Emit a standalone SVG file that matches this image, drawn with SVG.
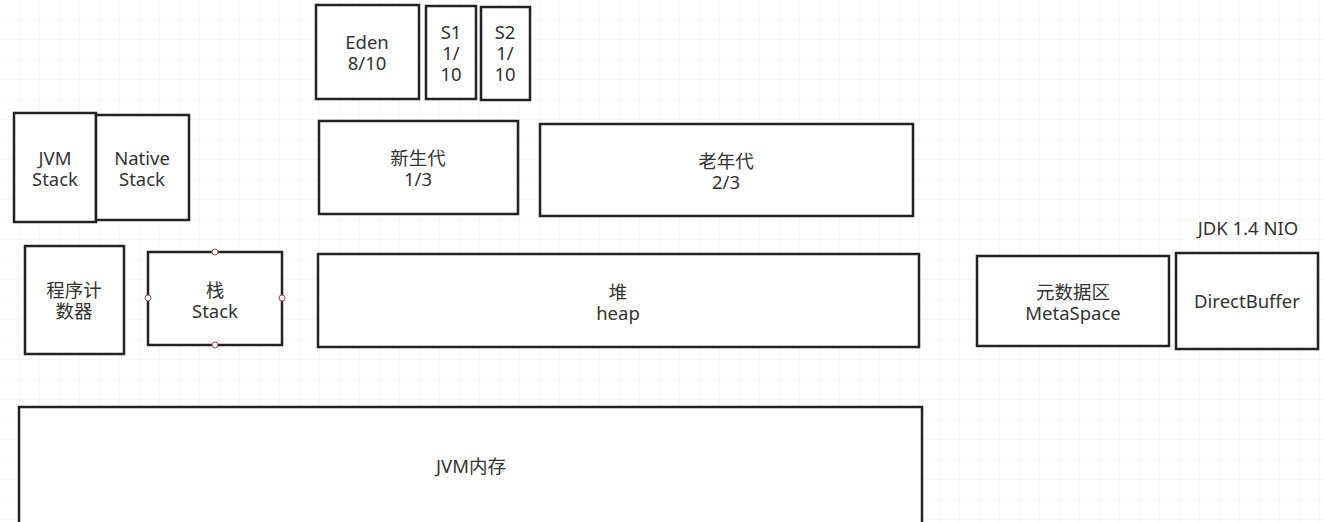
<svg xmlns="http://www.w3.org/2000/svg" width="1324" height="522" viewBox="0 0 1324 522">
<defs>
<pattern id="grid" width="20" height="20" patternUnits="userSpaceOnUse">
<path d="M20 0V20M0 20H20" fill="none" stroke="#ececec" stroke-width="1"/>
</pattern>
<style>
.b{fill:#fff;stroke:#222;stroke-width:2.5}
.t{font-family:"Noto Sans","Noto Sans CJK SC",sans-serif;font-size:18.5px;fill:#333;text-anchor:middle}
.h{fill:#fff;stroke:#a05050;stroke-width:1}
</style>
</defs>
<rect width="1324" height="522" fill="#fff"/>
<rect width="1324" height="522" fill="url(#grid)"/>
<g id="eden"><rect class="b" x="316" y="5" width="103" height="94"/><text class="t" x="367" y="49">Eden</text><text class="t" x="367" y="70">8/10</text></g>
<g id="s1"><rect class="b" x="426" y="6" width="50" height="93"/><text class="t" x="451" y="39">S1</text><text class="t" x="451" y="60">1/</text><text class="t" x="451" y="81">10</text></g>
<g id="s2"><rect class="b" x="481" y="7" width="49" height="93"/><text class="t" x="505" y="39">S2</text><text class="t" x="505" y="60">1/</text><text class="t" x="505" y="81">10</text></g>
<g id="jvmstack"><rect class="b" x="14" y="113" width="82" height="109"/><text class="t" x="55" y="165">JVM</text><text class="t" x="55" y="186">Stack</text></g>
<g id="nativestack"><rect class="b" x="96" y="115" width="93" height="105"/><text class="t" x="142" y="165">Native</text><text class="t" x="142" y="186">Stack</text></g>
<g id="young"><rect class="b" x="319" y="121" width="199" height="93"/><text class="t" x="418" y="165">新生代</text><text class="t" x="418" y="186">1/3</text></g>
<g id="old"><rect class="b" x="540" y="124" width="373" height="92"/><text class="t" x="726" y="168">老年代</text><text class="t" x="726" y="189">2/3</text></g>
<g id="pc"><rect class="b" x="25" y="246" width="99" height="108"/><text class="t" x="74" y="297">程序计</text><text class="t" x="74" y="318">数器</text></g>
<g id="stack"><rect class="b" x="148" y="252" width="134" height="93"/><text class="t" x="215" y="297">栈</text><text class="t" x="215" y="318">Stack</text>
<circle class="h" cx="215" cy="252" r="3"/><circle class="h" cx="215" cy="345" r="3"/><circle class="h" cx="148" cy="298" r="3"/><circle class="h" cx="282" cy="298" r="3"/></g>
<g id="heap"><rect class="b" x="318" y="254" width="601" height="93"/><text class="t" x="618" y="299">堆</text><text class="t" x="618" y="320">heap</text></g>
<g id="meta"><rect class="b" x="977" y="256" width="192" height="90"/><text class="t" x="1073" y="299">元数据区</text><text class="t" x="1073" y="320">MetaSpace</text></g>
<g id="nio"><text class="t" x="1248" y="235">JDK 1.4 NIO</text></g>
<g id="direct"><rect class="b" x="1176" y="253" width="142" height="96"/><text class="t" x="1247" y="308">DirectBuffer</text></g>
<g id="jvm"><rect class="b" x="19" y="407" width="903" height="130"/><text class="t" x="471" y="473">JVM内存</text></g>
<g id="connectors"></g>
</svg>
